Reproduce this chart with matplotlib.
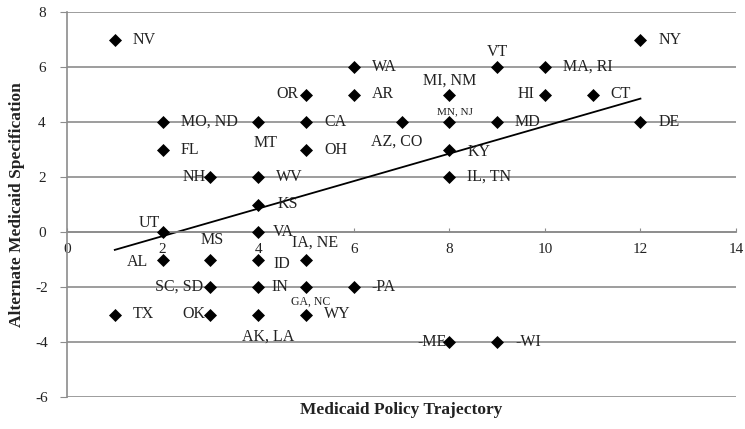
import matplotlib
matplotlib.use("Agg")
import matplotlib.pyplot as plt

# ---- data ----
labels = ["NV", "WA", "OR", "AR", "MO, ND", "MT", "CA", "AZ, CO", "FL", "OH",
          "NH", "WV", "KS", "UT", "VA", "MS", "IA, NE", "AL", "ID", "SC, SD",
          "IN", "GA, NC", "-PA", "TX", "OK", "AK, LA", "WY", "-ME", "-WI", "VT",
          "MA, RI", "MI, NM", "HI", "CT", "NY", "MN, NJ", "MD", "DE", "KY", "IL, TN"]
policy = [1, 6, 5, 6, 2, 4, 5, 7, 2, 5,
          3, 4, 4, 2, 4, 3, 5, 2, 4, 3,
          4, 5, 6, 1, 3, 4, 5, 8, 9, 9,
          10, 8, 10, 11, 12, 8, 9, 12, 8, 8]
alternate = [7, 6, 5, 5, 4, 4, 4, 4, 3, 3,
             2, 2, 1, 0, 0, -1, -1, -1, -1, -2,
             -2, -2, -2, -3, -3, -3, -3, -4, -4, 6,
             6, 5, 5, 5, 7, 4, 4, 4, 3, 2]
trend_x = [1, 12]
trend_y = [-0.65, 4.85]
xticks = [0, 2, 4, 6, 8, 10, 12, 14]
yticks = [-6, -4, -2, 0, 2, 4, 6, 8]

# ---- label placement (pixel offsets, alignment, size) ----
R = (18, 0, "left", "center", 11.5)
place = {
    "OR": (-7, 0, "right", "center", 11.5),
    "MT": (7, -21, "center", "center", 11.5),
    "AZ, CO": (-5, -20, "center", "center", 11.5),
    "NH": (-5, 0, "right", "center", 11.5),
    "UT": (-3, 9, "right", "center", 11.5),
    "VA": (15, 0, "left", "center", 11.5),
    "MS": (2, 19, "center", "center", 11.5),
    "IA, NE": (9, 17, "center", "center", 11.5),
    "AL": (-14, -3, "right", "center", 11.5),
    "ID": (15, -5, "left", "center", 11.5),
    "SC, SD": (-7, 0, "right", "center", 11.5),
    "IN": (13, 0, "left", "center", 11.5),
    "GA, NC": (5, -15, "center", "center", 8.5),
    "OK": (-5, 0, "right", "center", 11.5),
    "AK, LA": (10, -22, "center", "center", 11.5),
    "-ME": (-3, 0, "right", "center", 11.5),
    "VT": (0, 15, "center", "center", 11.5),
    "MI, NM": (0, 14, "center", "center", 11.5),
    "HI": (-10, 0, "right", "center", 11.5),
    "MN, NJ": (6, 10, "center", "center", 8),
    "KY": (18, -3, "left", "center", 11.5),
    "KS": (19, 0, "left", "center", 11.5),
}

plt.rcParams["font.family"] = ["Liberation Serif", "DejaVu Serif"]

fig = plt.figure(figsize=(7.45, 4.29), dpi=100)
ax = fig.add_axes([67 / 745, 1 - 397 / 429, (736 - 67) / 745, (397 - 12) / 429])

grid_c = "#8c8c8c"
for yv in yticks:
    ax.axhline(yv, color=grid_c, lw=1.2, zorder=1)

ax.plot(trend_x, trend_y, color="black", lw=1.3, zorder=2)
ax.scatter(policy, alternate, marker="D", s=44, color="black", zorder=3, linewidths=0)

px = 72 / 100
for lab, xv, yv in zip(labels, policy, alternate):
    dx, dy, ha, va, fs = place.get(lab, R)
    ax.annotate(lab, (xv, yv), xytext=(dx * px, dy * px), textcoords="offset points",
                ha=ha, va=va, fontsize=fs, color="#222222", zorder=4)

ax.set_xlim(0, 14)
ax.set_ylim(-6, 8)
ax.set_xticks(xticks)
ax.set_yticks(yticks)
ax.set_xticklabels([str(v) for v in xticks])
ax.set_yticklabels([str(v) for v in yticks])

for s in ["top", "right", "bottom"]:
    ax.spines[s].set_visible(False)
ax.spines["left"].set_color(grid_c)
ax.spines["left"].set_linewidth(1.2)
ax.spines["bottom"].set_visible(True)
ax.spines["bottom"].set_position(("data", 0))
ax.spines["bottom"].set_color(grid_c)
ax.spines["bottom"].set_linewidth(1.2)

ax.tick_params(axis="y", direction="out", length=5, color=grid_c, labelsize=11,
               pad=13, labelcolor="#222222")
for t in ax.get_yticklabels():
    t.set_horizontalalignment("center")
ax.tick_params(axis="x", direction="in", length=3, color=grid_c, labelsize=11,
               pad=8, labelcolor="#222222")

fig.text(401 / 745, 1 - 410 / 429, "Medicaid Policy Trajectory", ha="center", va="center",
         fontsize=12.5, fontweight="bold", color="#222222")
fig.text(17 / 745, 1 - 205 / 429, "Alternate Medicaid Specification", ha="center", va="center",
         rotation=90, fontsize=12.5, fontweight="bold", color="#222222")

fig.savefig("out.png", dpi=100)
